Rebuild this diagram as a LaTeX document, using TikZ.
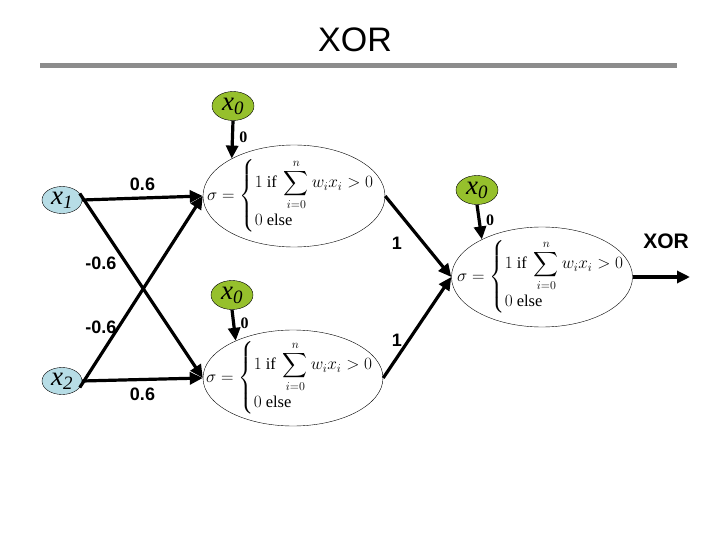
\documentclass[tikz,border=0pt]{standalone}
\usepackage{amsmath}
\usepackage{fontspec}
\setmainfont{Liberation Serif}
\newfontfamily\arial{Liberation Sans}
\usetikzlibrary{arrows.meta,shapes.geometric}

\definecolor{biasgreen}{RGB}{150,192,44}
\definecolor{inputblue}{RGB}{183,221,230}

\newcommand{\actfn}{\fontsize{16.5}{19}\selectfont
  $\sigma=\begin{cases}1\text{ if }\displaystyle\sum_{i=0}^{n} w_i x_i>0\\[2pt] 0\text{ else}\end{cases}$}

\begin{document}
\begin{tikzpicture}[x=1pt, y=-1pt,
    neuron/.style={ellipse, draw, thin, inner sep=0pt},
    bias/.style={ellipse, draw, thin, fill=biasgreen, minimum width=42pt, minimum height=29pt, inner sep=0pt,
                 font=\itshape\fontsize{27}{27}\selectfont},
    input/.style={ellipse, draw, thin, fill=inputblue, minimum width=40pt, minimum height=27pt, inner sep=0pt,
                  font=\itshape\fontsize{27}{27}\selectfont},
    wire/.style={line width=3.2pt, -{Triangle[length=13pt, width=12pt]}},
    wlabel/.style={font=\arial\bfseries\fontsize{18}{18}\selectfont},
    blabel/.style={font=\bfseries\fontsize{16}{16}\selectfont}]
            \useasboundingbox (0,0) rectangle (720,540);

            % title
            \node[font=\arial\fontsize{34}{34}\selectfont] (title) at (355,40) {XOR};
            \draw[line width=5pt, gray!90] (40,66) -- (677,66);

            % neurons
            \node[neuron, minimum width=182pt, minimum height=102pt,
                  label={[xshift=5pt]center:\actfn}] (N1) at (294,196) {};
            \node[neuron, minimum width=180pt, minimum height=96pt,
                  label={[xshift=5pt]center:\actfn}] (N2) at (293,378) {};
            \node[neuron, minimum width=181pt, minimum height=100pt,
                  label={[xshift=7pt]center:\actfn}] (N3) at (542,277) {};

            % inputs
            \node[input] (X1) at (62,200) {x\textsubscript{1}};
            \node[input] (X2) at (62,381) {x\textsubscript{2}};

            % bias units
            \node[bias] (B1) at (233,106) {x\textsubscript{0}};
            \node[bias] (B2) at (232,295) {x\textsubscript{0}};
            \node[bias] (B3) at (477,190) {x\textsubscript{0}};

            \draw[wire] (B1.south) -- (N1.149) node[blabel, pos=0.45, right=2pt] {0};
            \draw[wire] (B2.south) -- (N2.147) node[blabel, pos=0.45, right=2pt] {0};
            \draw[wire] (B3.south) -- (N3.148) node[blabel, pos=0.45, right=2pt] {0};

            % first layer
            \draw[wire] (X1.east) -- (N1.west) node[wlabel, midway, above=2pt] {0.6};
            \draw[wire] (X2.east) -- (N2.west) node[wlabel, midway, below=3pt] {0.6};
            \draw[wire] (X1.20) -- (N2.west);
            \draw[wire] (X2.-20) -- (N1.west);
            \node[wlabel] (w12) at (101,263) {-0.6};
            \node[wlabel] (w21) at (101,327) {-0.6};

            % second layer
            \draw[wire] (N1.east) -- (N3.west);
            \draw[wire] (N2.east) -- (N3.west);
            \node[wlabel] (w13) at (397,243) {1};
            \node[wlabel] (w23) at (397,340) {1};

            % output
            \coordinate (out) at (690,277);
            \draw[wire] (N3.east) -- (out);
            \node[font=\arial\bfseries\fontsize{21}{21}\selectfont] (lout) at (666,241) {XOR};
        \end{tikzpicture}
\end{document}
